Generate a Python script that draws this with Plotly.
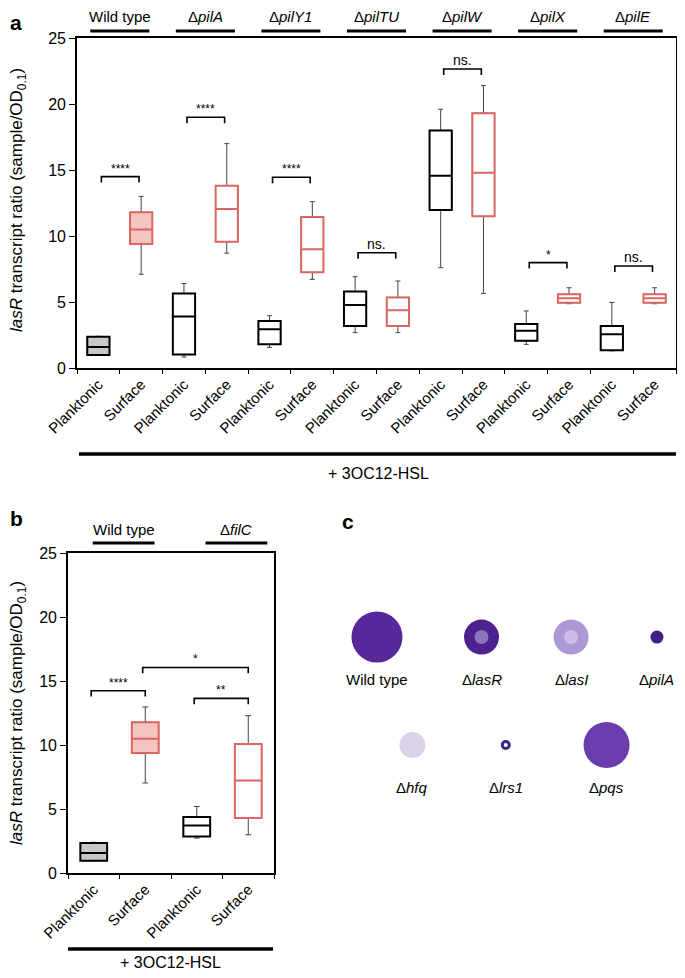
import plotly.graph_objects as go

# ---- panel a: lasR transcript ratio, box stats ----
conditions = ["Planktonic", "Surface"]
strains_a = ["Wild type", "Δ<i>pilA</i>", "Δ<i>pilY1</i>", "Δ<i>pilTU</i>",
             "Δ<i>pilW</i>", "Δ<i>pilX</i>", "Δ<i>pilE</i>"]
a_lo = [0.95, 7.1, 0.83, 8.7, 1.56, 6.72, 2.68, 2.68, 7.6, 5.65, 1.79, 4.87, 1.3, 4.87]
a_q1 = [0.98, 9.4, 1.03, 9.57, 1.79, 7.25, 3.18, 3.18, 11.97, 11.5, 2.07, 4.95, 1.34, 4.95]
a_med = [1.6, 10.5, 3.9, 12.05, 2.93, 9.0, 4.77, 4.37, 14.57, 14.8, 2.83, 5.28, 2.55, 5.28]
a_q3 = [2.37, 11.8, 5.65, 13.8, 3.56, 11.44, 5.8, 5.35, 18.0, 19.3, 3.33, 5.58, 3.18, 5.58]
a_hi = [2.4, 13.0, 6.4, 17.0, 3.96, 12.6, 6.92, 6.59, 19.6, 21.4, 4.32, 6.08, 4.97, 6.08]
a_sig = ["****", "****", "****", "ns.", "ns.", "*", "ns."]
a_sig_y = [14.5, 19.0, 14.45, 8.73, 22.65, 7.98, 7.73]

# ---- panel b: wild type vs filC ----
strains_b = ["Wild type", "Δ<i>filC</i>"]
b_lo = [0.96, 7.03, 2.73, 2.99]
b_q1 = [0.96, 9.37, 2.86, 4.3]
b_med = [1.56, 10.49, 3.72, 7.23]
b_q3 = [2.34, 11.77, 4.37, 10.08]
b_hi = [2.4, 12.97, 5.2, 12.29]
b_sig = ["****", "*", "**"]
b_sig_from = [0, 1, 2]
b_sig_to = [1, 3, 3]
b_sig_y = [14.24, 16.06, 13.64]

# ---- panel c: colony staining ----
colony_names = ["Wild type", "Δ<i>lasR</i>", "Δ<i>lasI</i>", "Δ<i>pilA</i>",
                "Δ<i>hfq</i>", "Δ<i>lrs1</i>", "Δ<i>pqs</i>"]
colony_col = [0, 1.12, 2.08, 3.0, 0.38, 1.38, 2.46]
colony_row = [0, 0, 0, 0, 1, 1, 1]
colony_diam = [51, 35, 35, 13, 26, 10, 46]
colony_color = ["#58289a", "#4d2190", "#ae98d4", "#3e1e88", "#dcd2e8", "#3a2688", "#6a3cad"]

RED = "#dd6660"
FONT = "Liberation Sans, Arial, sans-serif"
# the page body has an 8px margin: keep the figure inside the window
OFF = 8
W = 685 - 2 * OFF
H = 978 - 2 * OFF


def fx(px):
    return (px - OFF) / W


def fy(px):
    return 1 - (px - OFF) / H


def note(fig, text, x, y, xref="paper", yref="paper", size=15, **kw):
    fig.add_annotation(x=x, y=y, xref=xref, yref=yref, text=text, showarrow=False,
                       xanchor=kw.pop("xanchor", "center"),
                       yanchor=kw.pop("yanchor", "middle"),
                       font=dict(size=size, color="black"), **kw)


def box_pair(fig, i, lo, q1, med, q3, hi, color, fill, xa, ya):
    # thin whisker box underneath, coloured body on top
    fig.add_trace(go.Box(
        x=[i], q1=[q1], median=[med], q3=[q3], lowerfence=[lo], upperfence=[hi],
        width=0.52, whiskerwidth=0.22, line=dict(color="#444", width=1),
        fillcolor="rgba(0,0,0,0)", boxpoints=False, hoverinfo="skip",
        showlegend=False, xaxis=xa, yaxis=ya,
    ))
    fig.add_trace(go.Box(
        x=[i], q1=[q1], median=[med], q3=[q3], lowerfence=[q1], upperfence=[q3],
        width=0.52, whiskerwidth=0, line=dict(color=color, width=2),
        fillcolor=fill, boxpoints=False, hoverinfo="skip",
        showlegend=False, xaxis=xa, yaxis=ya,
    ))


def bracket(fig, x0, x1, y, label, xa, ya, size):
    fig.add_trace(go.Scatter(
        x=[x0, x0, x1, x1], y=[y - 0.45, y, y, y - 0.45], mode="lines",
        line=dict(color="black", width=1.6), hoverinfo="skip",
        showlegend=False, xaxis=xa, yaxis=ya,
    ))
    note(fig, label, (x0 + x1) / 2, y, xa, ya, size, yanchor="bottom", yshift=-1)


fig = go.Figure()

# panel a boxes
for i in range(len(a_med)):
    color = RED if i % 2 == 1 else "black"
    fill = {0: "#c8c8c8", 1: "#f2c5c3"}.get(i, "white")
    box_pair(fig, i, a_lo[i], a_q1[i], a_med[i], a_q3[i], a_hi[i], color, fill, "x", "y")

for g, (lab, yv) in enumerate(zip(a_sig, a_sig_y)):
    bracket(fig, 2 * g + 0.07, 2 * g + 0.95, yv, lab, "x", "y", 12 if "*" in lab else 14)

for g, name in enumerate(strains_a):
    c = 2 * g + 0.5
    note(fig, name, c, fy(16), "x", "paper", 15)
    fig.add_shape(type="line", xref="x", yref="paper", x0=c - 0.69, x1=c + 0.69,
                  y0=fy(31), y1=fy(31), line=dict(color="black", width=3))

# panel b boxes
for i in range(len(b_med)):
    color = RED if i % 2 == 1 else "black"
    fill = {0: "#c8c8c8", 1: "#f2c5c3"}.get(i, "white")
    box_pair(fig, i, b_lo[i], b_q1[i], b_med[i], b_q3[i], b_hi[i], color, fill, "x2", "y2")

for lab, f, t, yv in zip(b_sig, b_sig_from, b_sig_to, b_sig_y):
    bracket(fig, f - 0.05, t, yv, lab, "x2", "y2", 12)

for g, (name, shift) in enumerate(zip(strains_b, [0.08, 0.27])):
    c = 2 * g + 0.5 + shift
    note(fig, name, c, fy(529), "x2", "paper", 15)
    fig.add_shape(type="line", xref="x2", yref="paper", x0=c - 0.6, x1=c + 0.6,
                  y0=fy(543), y1=fy(543), line=dict(color="black", width=3))

# panel c colonies
fig.add_trace(go.Scatter(
    x=colony_col, y=colony_row, mode="markers",
    marker=dict(size=colony_diam, color=colony_color, opacity=1, line=dict(width=0)),
    hoverinfo="skip", showlegend=False, xaxis="x3", yaxis="y3",
))
# lighter centres on the ring-like colonies
fig.add_trace(go.Scatter(
    x=[colony_col[1], colony_col[2], colony_col[5]],
    y=[colony_row[1], colony_row[2], colony_row[5]], mode="markers",
    marker=dict(size=[14, 14, 4], color=["#8f74c0", "#cbbde6", "white"], opacity=1,
                line=dict(width=0)),
    hoverinfo="skip", showlegend=False, xaxis="x3", yaxis="y3",
))
for name, cx, cy in zip(colony_names, colony_col, colony_row):
    note(fig, name, cx, cy + 0.39, "x3", "y3", 15)

# y titles, panel letters, HSL bars
ytitle = "<i>lasR</i> transcript ratio (sample/OD<sub>0.1</sub>)"
for yc in [fy(200), fy(713)]:
    note(fig, ytitle, fx(18), yc, size=17, textangle=-90)
for lab, lx, ly in [("a", 16, 22), ("b", 16, 518), ("c", 348, 521)]:
    note(fig, "<b>" + lab + "</b>", fx(lx), fy(ly), size=21)

fig.add_shape(type="line", xref="paper", yref="paper", x0=fx(79), x1=fx(676),
              y0=fy(454), y1=fy(454), line=dict(color="black", width=3.5))
note(fig, "+ 3OC12-HSL", fx(378), fy(473), size=16)
fig.add_shape(type="line", xref="paper", yref="paper", x0=fx(68), x1=fx(273),
              y0=fy(949), y1=fy(949), line=dict(color="black", width=3.5))
note(fig, "+ 3OC12-HSL", fx(170), fy(962), size=16)

axis_common = dict(showline=True, mirror=True, linecolor="black", linewidth=1.6,
                   showgrid=False, zeroline=False, automargin=False,
                   tickfont=dict(size=16, color="black"))
xcommon = dict(axis_common, ticks="", tickangle=-45, tickfont=dict(size=15, color="black"),
               minor=dict(tick0=0.5, dtick=1, ticks="outside", ticklen=4,
                          tickcolor="black", tickwidth=1.2))
ycommon = dict(axis_common, range=[0, 25], dtick=5, ticks="outside", ticklen=6,
               tickcolor="black", tickwidth=1.2)

fig.update_layout(
    width=W, height=H, template="none",
    margin=dict(l=0, r=0, t=0, b=0, autoexpand=False),
    paper_bgcolor="white", plot_bgcolor="white",
    font=dict(family=FONT, color="black"),
    boxmode="overlay",
    xaxis=dict(xcommon, domain=[fx(77), fx(676)], range=[-0.5, 13.5], anchor="y",
               tickvals=list(range(14)), ticktext=conditions * 7),
    yaxis=dict(ycommon, domain=[fy(368), fy(38)], anchor="x"),
    xaxis2=dict(xcommon, domain=[fx(68), fx(274)], range=[-0.5, 3.5], anchor="y2",
                tickvals=list(range(4)), ticktext=conditions * 2),
    yaxis2=dict(ycommon, domain=[fy(873), fy(553)], anchor="x2"),
    # colony grid: one column step ~93 px, one row step = 108 px
    xaxis3=dict(domain=[fx(300), 1], range=[-0.825, 3.215], visible=False, anchor="y3"),
    yaxis3=dict(domain=[fy(860), fy(500)], range=[2.064, -1.269], visible=False, anchor="x3"),
)

fig.write_html("out.html")
